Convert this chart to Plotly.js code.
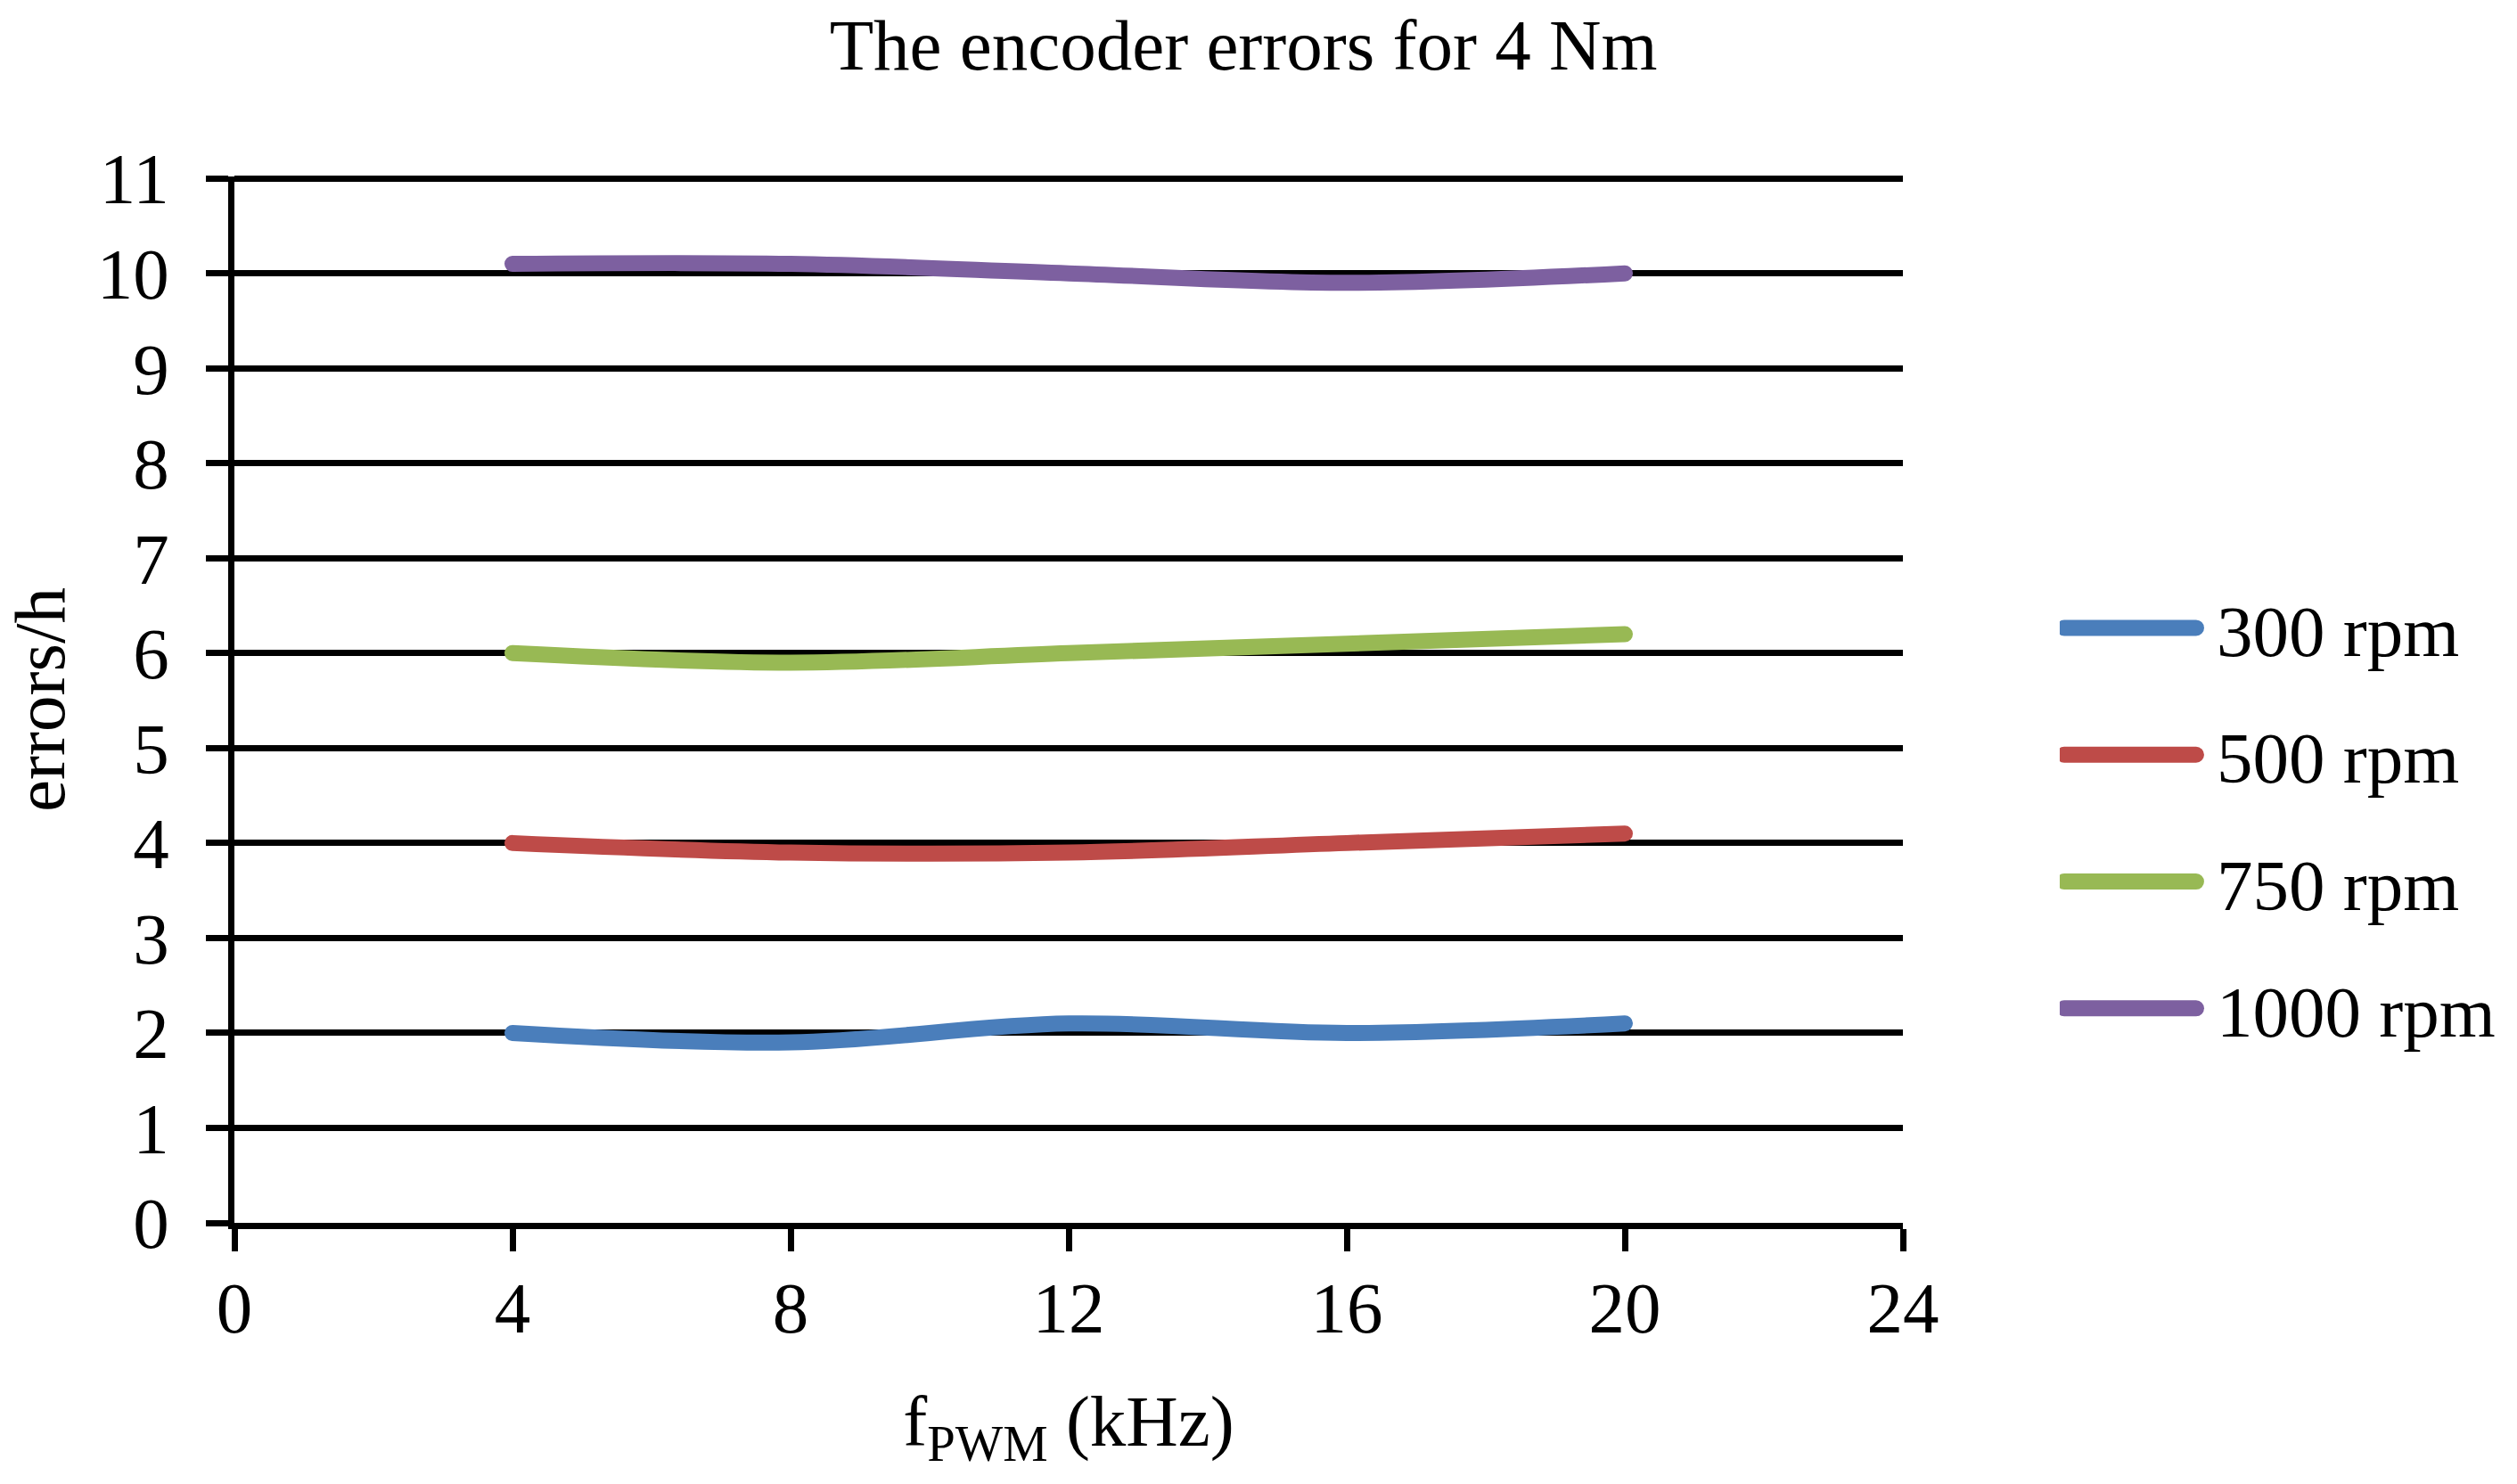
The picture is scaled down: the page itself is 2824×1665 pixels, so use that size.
<!DOCTYPE html>
<html>
<head>
<meta charset="utf-8">
<script src="https://cdn.plot.ly/plotly-3.0.1.min.js"></script>
<style>
  html, body { margin: 0; padding: 0; background: #fff; }
  #chart { width: 2824px; height: 1665px; }
  .scatterlayer .js-line { stroke-linecap: round; }
  .legend .js-line {
      stroke-linecap: round;
      stroke-width: 18px !important;
      stroke-dasharray: 148 400;
  }
</style>
</head>
<body>
<div id="chart"></div>
<script>
// pwm frequency (kHz)
let freq = [4, 8, 12, 16, 20];

// errors per hour
let err_300 = [2.0, 1.9, 2.1, 2.0, 2.1];
let err_500 = [4.0, 3.9, 3.9, 4.0, 4.1];
let err_750 = [6.0, 5.9, 6.0, 6.1, 6.2];
let err_1000 = [10.1, 10.1, 10.0, 9.9, 10.0];

let names = ["300 rpm", "500 rpm", "750 rpm", "1000 rpm"];
let colors = ["#4A7EBB", "#BE4B48", "#98B954", "#7D60A0"];
let xticks = [0, 4, 8, 12, 16, 20, 24];
let yticks = [0, 1, 2, 3, 4, 5, 6, 7, 8, 9, 10, 11];

let font = "Liberation Serif, Times New Roman, serif";
let series = [err_300, err_500, err_750, err_1000];

// one trace per speed, smoothed like the original
let data = [];
for (let i = 0; i < series.length; i++) {
    data.push({
        x: freq,
        y: series[i],
        name: names[i],
        legendgroup: "g" + i,
        type: "scatter",
        mode: "lines",
        hoverinfo: "skip",
        line: {
            color: colors[i],
            width: 18,
            shape: "spline",
            smoothing: 1
        }
    });
}

let layout = {
    width: 2824,
    height: 1665,
    paper_bgcolor: "#fff",
    plot_bgcolor: "#fff",
    margin: {l: 263, r: 689, t: 198, b: 293},
    font: {family: font, size: 81, color: "#000"},
    title: {
        text: "The encoder errors for 4 Nm",
        font: {family: font, size: 81, color: "#000"},
        x: 0.494,
        xref: "container",
        xanchor: "center",
        y: 0.97,
        yref: "container",
        yanchor: "middle"
    },
    xaxis: {
        range: [0, 24],
        tickvals: xticks,
        ticktext: xticks.map(String),
        showgrid: false,
        zeroline: false,
        showline: true,
        linecolor: "#000",
        linewidth: 7,
        ticks: "outside",
        ticklen: 25,
        tickwidth: 7,
        tickcolor: "#000",
        ticklabelstandoff: -6,
        tickfont: {family: font, size: 81, color: "#000"},
        title: {
            text: "f<sub>PWM</sub> (kHz)",
            font: {family: font, size: 81, color: "#000"},
            standoff: 56
        },
        fixedrange: true
    },
    yaxis: {
        // a hair above 11 so the top grid line is drawn
        range: [0, 11.02],
        tickvals: yticks,
        ticktext: yticks.map(String),
        showgrid: true,
        gridcolor: "#000",
        gridwidth: 7,
        zeroline: false,
        showline: true,
        linecolor: "#000",
        linewidth: 7,
        ticks: "outside",
        ticklen: 25,
        tickwidth: 7,
        tickcolor: "#000",
        ticklabelstandoff: 25,
        tickfont: {family: font, size: 81, color: "#000"},
        title: {
            text: "errors/h",
            font: {family: font, size: 81, color: "#000"},
            standoff: 40
        },
        fixedrange: true
    },
    showlegend: true,
    legend: {
        x: 1.094,
        xanchor: "left",
        y: 0.619,
        yanchor: "top",
        traceorder: "grouped",
        tracegroupgap: 34,
        itemwidth: 166,
        bgcolor: "rgba(0,0,0,0)",
        font: {family: font, size: 81, color: "#000"}
    }
};

let config = {
    displayModeBar: false,
    staticPlot: true
};

Plotly.newPlot(document.getElementById("chart"), data, layout, config);
</script>
</body>
</html>
